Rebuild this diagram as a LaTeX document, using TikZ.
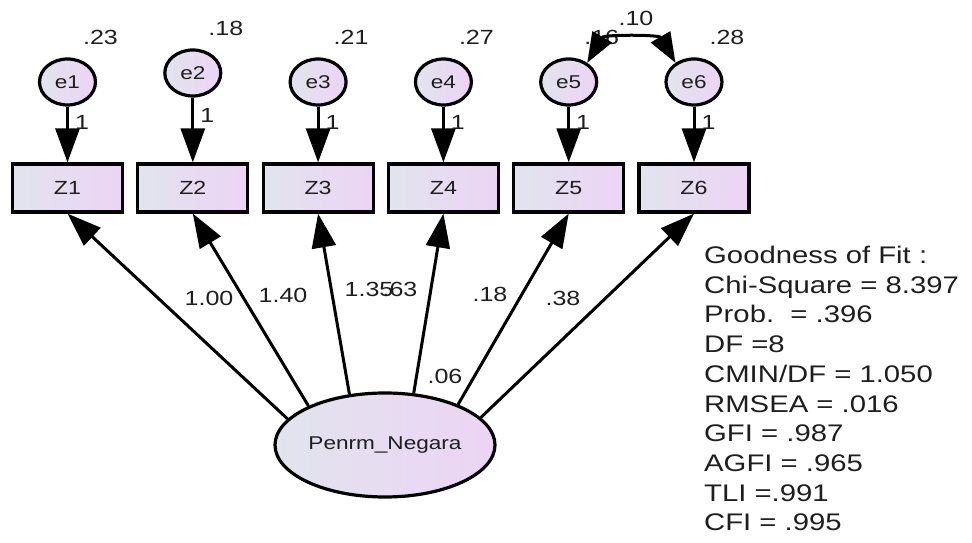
\documentclass[tikz,border=0pt]{standalone}
\usepackage{fontspec}
\setmainfont{Liberation Sans}[FakeStretch=1.22]
\usetikzlibrary{positioning,shapes,arrows.meta}

\definecolor{shadeL}{RGB}{226,228,238}
\definecolor{shadeR}{RGB}{236,212,244}
\definecolor{ink}{RGB}{30,30,30}

\begin{document}
\begin{tikzpicture}[x=1pt,y=1pt,>={Triangle[length=34pt,width=24pt]}]

    \useasboundingbox (0,0) rectangle (972,543);

    %
    % Styles for variables, paths and estimates
    %
    \tikzstyle{observed} = [draw, rectangle, line width=3.2pt, left color=shadeL, right color=shadeR,
                            minimum width=110pt, minimum height=48pt, inner sep=0pt,
                            node distance=125.3pt, on grid,
                            font={\fontsize{19}{22}\selectfont}, text=ink]
    \tikzstyle{errorterm} = [observed, ellipse, minimum width=56pt, minimum height=46pt,
                             font={\fontsize{18.5}{22}\selectfont}]
    \tikzstyle{latent} = [observed, ellipse, minimum width=220pt, minimum height=104pt,
                          font={\fontsize{18.5}{22}\selectfont}]
    \tikzstyle{regPath} = [->, line width=3pt];
    \tikzstyle{covPath} = [<->, line width=3pt, >={Triangle[length=30pt,width=22pt]}];
    \tikzstyle{estimate} = [inner sep=0pt, text=ink, font={\fontsize{20.5}{24}\selectfont}];
    \tikzstyle{fitText} = [align=left, inner sep=0pt, text=ink, font={\fontsize{24}{29.7}\selectfont}];

    %
    % Position observed variables and error terms
    %
    \node[observed, name=z1] at (67.5,355) {Z1};
    \node[observed, name=z2, right=of z1] {Z2};
    \node[observed, name=z3, right=of z2] {Z3};
    \node[observed, name=z4, right=of z3] {Z4};
    \node[observed, name=z5, right=of z4] {Z5};
    \node[observed, name=z6, right=of z5] {Z6};

    \node[errorterm, name=e1, above=106pt of z1] {e1};
    \node[errorterm, name=e2, above=115pt of z2] {e2};
    \node[errorterm, name=e3, above=106pt of z3] {e3};
    \node[errorterm, name=e4, above=106pt of z4] {e4};
    \node[errorterm, name=e5, above=106pt of z5] {e5};
    \node[errorterm, name=e6, above=106pt of z6] {e6};

    \node[latent, name=negara] at (385,98) {Penrm\_Negara};

    %
    % Variances of the error terms
    %
    \node[estimate, name=v1] at ([shift={(33pt,45pt)}]e1.center) {.23};
    \node[estimate, name=v2] at ([shift={(33pt,45pt)}]e2.center) {.18};
    \node[estimate, name=v3] at ([shift={(33pt,45pt)}]e3.center) {.21};
    \node[estimate, name=v4] at ([shift={(33pt,45pt)}]e4.center) {.27};
    \node[estimate, name=v5] at ([shift={(33pt,45pt)}]e5.center) {.16};
    \node[estimate, name=v6] at ([shift={(33pt,45pt)}]e6.center) {.28};
    \node[estimate, name=c56] at (636,525) {.10};

    %
    % Error paths and covariance
    %
    \draw[regPath] (e1) -- node[estimate, pos=0.28, right=6pt]{1} (z1);
    \draw[regPath] (e2) -- node[estimate, pos=0.28, right=6pt]{1} (z2);
    \draw[regPath] (e3) -- node[estimate, pos=0.28, right=6pt]{1} (z3);
    \draw[regPath] (e4) -- node[estimate, pos=0.28, right=6pt]{1} (z4);
    \draw[regPath] (e5) -- node[estimate, pos=0.28, right=6pt]{1} (z5);
    \draw[regPath] (e6) -- node[estimate, pos=0.28, right=6pt]{1} (z6);

    \draw[covPath] (e5.46) to[out=60, in=120, looseness=0.95] (e6.134);

    %
    % Loadings of the latent variable
    %
    \draw[regPath] (negara.165) -- (z1.south);
    \draw[regPath] (negara.153) -- (z2.south);
    \draw[regPath] (negara.125) -- (z3.south);
    \draw[regPath] (negara.61) -- (z4.south);
    \draw[regPath] (negara.29) -- (z5.south);
    \draw[regPath] (negara.16) -- (z6.south);

    \node[estimate, name=l1] at (209,245) {1.00};
    \node[estimate, name=l2] at (283,248) {1.40};
    \node[estimate, name=l3] at (369,254) {1.35};
    \node[estimate, name=l4] at (400,254) {.63};
    \node[estimate, name=l5] at (445,167) {.06};
    \node[estimate, name=l6] at (490,249) {.18};
    \node[estimate, name=l7] at (563,245) {.38};

    %
    % Fit indices
    %
    \node[fitText, anchor=north west, name=fit] at (704,297)
      {Goodness of Fit :\\ Chi-Square = 8.397\\ Prob.\ \ = .396\\ DF =8\\ CMIN/DF = 1.050\\
       RMSEA = .016\\ GFI = .987\\ AGFI = .965\\ TLI =.991\\ CFI = .995};
\end{tikzpicture}
\end{document}
